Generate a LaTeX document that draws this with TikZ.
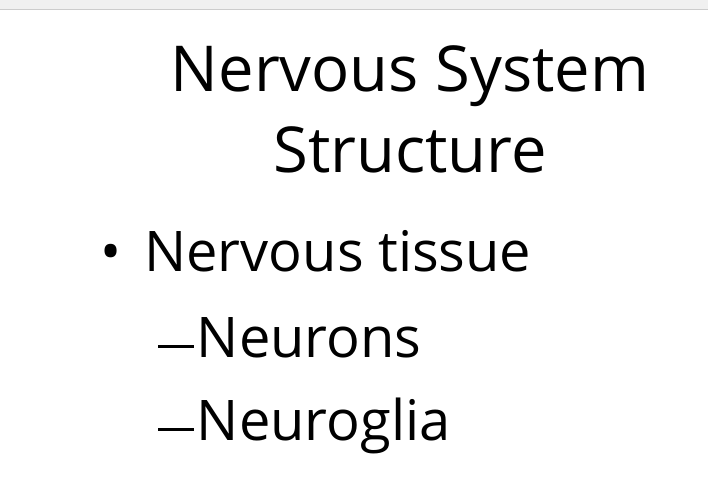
\documentclass[tikz,border=0pt]{standalone}
\usepackage{fontspec}
\setmainfont{Open Sans}
\newcommand{\mydash}{\raisebox{0.3ex}{\rule{27pt}{2.2pt}}\hspace{2pt}}
\begin{document}
\begin{tikzpicture}[x=0.75pt,y=-0.75pt,
  title/.style={font=\fontsize{47.5}{54}\selectfont,inner sep=0},
  body/.style={font=\fontsize{42}{48}\selectfont,inner sep=0,anchor=base west}]
\useasboundingbox (0,0) rectangle (708,485);
\fill[white] (0,0) rectangle (708,485);
\fill[black!6] (0,0) rectangle (708,9);
\draw[black!20] (0,9) -- (708,9);
\node[title,anchor=base] (t1) at (410,92) {Nervous System};
\node[title,anchor=base] (t2) at (410,172) {Structure};
\node[body] (bul) at (100,272) {•};
\node[body] (b1) at (144,272) {Nervous tissue};
\node[body] (b2) at (158,357) {\mydash Neurons};
\node[body] (b3) at (158,440) {\mydash Neuroglia};
\end{tikzpicture}
\end{document}
